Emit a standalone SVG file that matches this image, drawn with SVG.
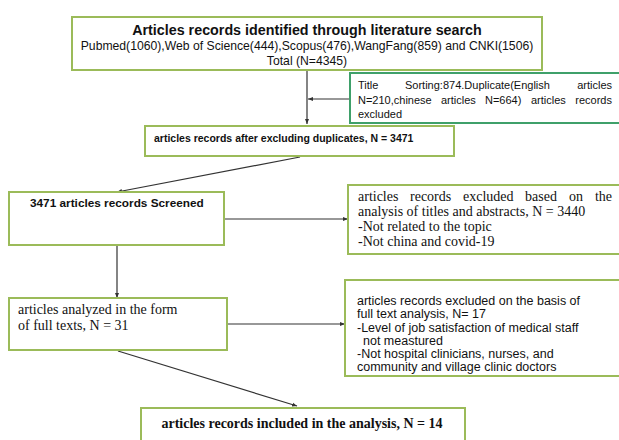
<svg xmlns="http://www.w3.org/2000/svg" width="619" height="440" viewBox="0 0 619 440">
<defs>
<style>
.box{fill:#fff;stroke:#9bbb59;stroke-width:2}
.box2{fill:#fff;stroke:#3fa06a;stroke-width:2}
.ln{stroke:#333;stroke-width:1.2;fill:none;marker-end:url(#ah)}
.sans{font-family:"Liberation Sans",Arial,sans-serif;fill:#111}
.serif{font-family:"Liberation Serif","Times New Roman",serif;fill:#111}
.b{font-weight:bold}
</style>
<marker id="ah" viewBox="0 0 10 10" refX="10" refY="5" markerWidth="5" markerHeight="5" orient="auto" markerUnits="userSpaceOnUse">
<path d="M0,1 L10,5 L0,9 Z" fill="#333"/>
</marker>
</defs>
<rect width="619" height="440" fill="#fff"/>
<g id="connectors">
<line class="ln" x1="307" y1="71" x2="307" y2="124"/>
<line class="ln" x1="350" y1="99" x2="308" y2="99"/>
<line class="ln" x1="300" y1="157" x2="117" y2="192"/>
<line class="ln" x1="224" y1="219" x2="348" y2="219"/>
<line class="ln" x1="117" y1="246" x2="117" y2="298"/>
<line class="ln" x1="227" y1="324" x2="345" y2="324"/>
<line class="ln" x1="118" y1="351" x2="297" y2="406"/>
</g>
<g id="n1">
<rect class="box" x="72" y="17" width="470" height="53"/>
<text class="sans b" x="307" y="35" font-size="14.3" text-anchor="middle">Articles records identified through literature search</text>
<text class="sans" x="307" y="50" font-size="12.2" text-anchor="middle">Pubmed(1060),Web of Science(444),Scopus(476),WangFang(859) and CNKI(1506)</text>
<text class="sans" x="307" y="65" font-size="12.2" text-anchor="middle">Total (N=4345)</text>
</g>
<g id="n_dup">
<rect class="box2" x="350" y="73" width="272" height="50"/>
<text class="sans" y="89" font-size="11"><tspan x="358">Title</tspan><tspan x="405">Sorting:874.Duplicate(English</tspan></text>
<text class="sans" x="612" y="89" font-size="11" text-anchor="end">articles</text>
<text class="sans" y="104" font-size="11"><tspan x="358">N=210,chinese</tspan><tspan x="441">articles</tspan><tspan x="485">N=664)</tspan><tspan x="531">articles</tspan></text>
<text class="sans" x="612" y="104" font-size="11" text-anchor="end">records</text>
<text class="sans" x="358" y="118" font-size="11">excluded</text>
</g>
<g id="n2">
<rect class="box" x="145" y="126" width="309" height="30"/>
<text class="sans b" x="154" y="142" font-size="10.5">articles records after excluding duplicates, N = 3471</text>
</g>
<g id="n3">
<rect class="box" x="9" y="192" width="215" height="53"/>
<text class="sans b" x="30" y="207" font-size="11.8">3471 articles records Screened</text>
</g>
<g id="n4">
<rect class="box" x="348" y="185" width="274" height="69"/>
<text class="serif" y="201" font-size="14"><tspan x="358">articles</tspan><tspan x="410">records</tspan><tspan x="463">excluded</tspan><tspan x="525">based</tspan><tspan x="569">on</tspan></text>
<text class="serif" x="612" y="201" font-size="14" text-anchor="end">the</text>
<text class="serif" x="358" y="216" font-size="14">analysis of titles and abstracts, N = 3440</text>
<text class="serif" x="358" y="231" font-size="14">-Not related to the topic</text>
<text class="serif" x="358" y="246" font-size="14">-Not china and covid-19</text>
</g>
<g id="n5">
<rect class="box" x="9" y="298" width="218" height="52"/>
<text class="serif" y="314" font-size="14"><tspan x="18">articles</tspan><tspan x="62">analyzed in the form</tspan></text>
<text class="serif" x="18" y="330" font-size="14">of full texts, N = 31</text>
</g>
<g id="n6">
<rect class="box" x="345" y="280" width="277" height="96"/>
<text class="sans" x="357" y="305" font-size="12.5">articles records excluded on the basis of</text>
<text class="sans" x="357" y="318" font-size="12.5">full text analysis, N= 17</text>
<text class="sans" x="357" y="332" font-size="12.5">-Level of job satisfaction of medical staff</text>
<text class="sans" x="363" y="345" font-size="12.5">not meastured</text>
<text class="sans" x="357" y="358" font-size="12.5">-Not hospital clinicians, nurses, and</text>
<text class="sans" x="357" y="371" font-size="12.5">community and village clinic doctors</text>
</g>
<g id="n7">
<rect class="box" x="141" y="408" width="324" height="40"/>
<text class="serif b" x="302" y="428" font-size="14" text-anchor="middle">articles records included in the analysis, N = 14</text>
</g>
</svg>
